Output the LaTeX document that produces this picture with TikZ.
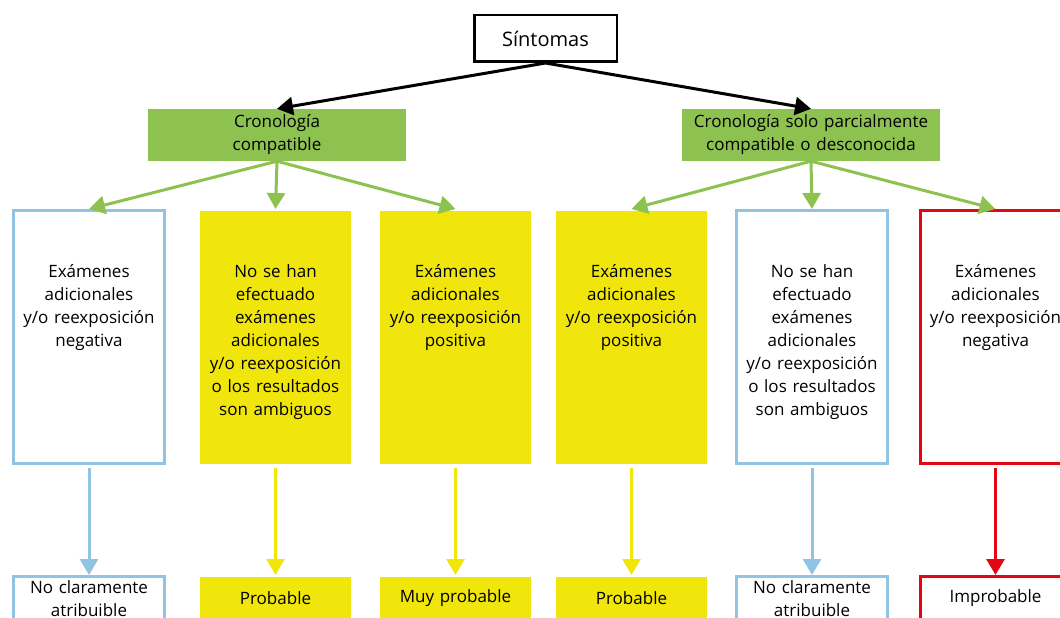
\documentclass[tikz,border=0pt]{standalone}
\usepackage{fontspec}
\setmainfont{Open Sans}
\usepackage{tikz}
\usetikzlibrary{arrows.meta}

\definecolor{cgreen}{HTML}{8DC250}
\definecolor{cyellow}{HTML}{F0E60C}
\definecolor{cblue}{HTML}{90C4E2}
\definecolor{cred}{HTML}{E30613}

\tikzset{
	every node/.style={font=\fontsize{17}{23}\selectfont, inner sep=0pt, align=center},
	symptombox/.style={draw=black, line width=2.5pt, minimum width=142.5pt, minimum height=46.5pt, font=\fontsize{20}{24}\selectfont},
	cronbox/.style={fill=cgreen, minimum width=258pt, minimum height=52pt, text width=252pt},
	tallbox/.style={line width=3pt, minimum width=151pt, text width=148pt, text height=66.5pt, text depth=186.5pt},
	resbox/.style={line width=3pt, minimum width=151pt, minimum height=44pt, text width=148pt},
	bluebox/.style={draw=cblue, fill=white},
	yellowbox/.style={fill=cyellow},
	redbox/.style={draw=cred, fill=white},
	link/.style={line width=3pt, -{Triangle[length=16pt,width=18pt]}},
	drop/.style={link, shorten <=3pt}
}

\begin{document}
\begin{tikzpicture}[x=1pt, y=-1pt]
	\useasboundingbox (0, 0) rectangle (1060, 618);
	\clip (0, 0) rectangle (1060, 618);
	% Boxes, then the arrows between them:
	\node[symptombox](N1) at (545.5, 38.5){Síntomas};
	\node[cronbox](N2) at (277, 135){Cronología\\compatible};
	\node[cronbox](N3) at (811, 135){Cronología solo parcialmente\\compatible o desconocida};
	\node[tallbox, bluebox](N4) at (89, 337){Exámenes\\adicionales\\y/o reexposición\\negativa};
	\node[tallbox, yellowbox](N5) at (275.5, 337){No se han\\efectuado\\exámenes\\adicionales\\y/o reexposición\\o los resultados\\son ambiguos};
	\node[tallbox, yellowbox](N6) at (455.5, 337){Exámenes\\adicionales\\y/o reexposición\\positiva};
	\node[tallbox, yellowbox](N7) at (631.5, 337){Exámenes\\adicionales\\y/o reexposición\\positiva};
	\node[tallbox, bluebox](N8) at (812, 337){No se han\\efectuado\\exámenes\\adicionales\\y/o reexposición\\o los resultados\\son ambiguos};
	\node[tallbox, redbox](N9) at (995.5, 337){Exámenes\\adicionales\\y/o reexposición\\negativa};
	\node[resbox, bluebox](N10) at (89, 598.5){No claramente\\atribuible};
	\node[resbox, yellowbox](N11) at (275.5, 598.5){Probable};
	\node[resbox, yellowbox](N12) at (455.5, 598.5){Muy probable};
	\node[resbox, yellowbox](N13) at (631.5, 598.5){Probable};
	\node[resbox, bluebox](N14) at (812, 598.5){No claramente\\atribuible};
	\node[resbox, redbox](N15) at (995.5, 598.5){Improbable};
	\draw[link] (N1.south) -- (N2.north);
	\draw[link] (N1.south) -- (N3.north);
	\draw[link, cgreen] (N2.south) -- (N4.north);
	\draw[link, cgreen] (N2.south) -- (N5.north);
	\draw[link, cgreen] (N2.south) -- (N6.north);
	\draw[link, cgreen] (N3.south) -- (N7.north);
	\draw[link, cgreen] (N3.south) -- (N8.north);
	\draw[link, cgreen] (N3.south) -- (N9.north);
	\draw[drop, cblue] (N4.south) -- (N10.north);
	\draw[drop, cyellow] (N5.south) -- (N11.north);
	\draw[drop, cyellow] (N6.south) -- (N12.north);
	\draw[drop, cyellow] (N7.south) -- (N13.north);
	\draw[drop, cblue] (N8.south) -- (N14.north);
	\draw[drop, cred] (N9.south) -- (N15.north);
\end{tikzpicture}
\end{document}
